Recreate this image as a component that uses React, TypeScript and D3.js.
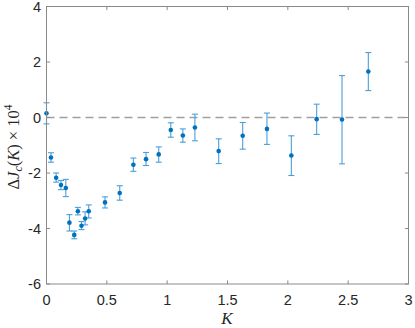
import React from "react";
import * as d3 from "d3";

const kValues = [0, 0.037, 0.08, 0.12, 0.16, 0.19, 0.23, 0.26, 0.29, 0.32, 0.35, 0.485, 0.607, 0.72, 0.825, 0.93, 1.03, 1.13, 1.23, 1.427, 1.626, 1.827, 2.029, 2.239, 2.449, 2.667];
const deltaJ = [0.15, -1.44, -2.17, -2.43, -2.54, -3.79, -4.23, -3.38, -3.9, -3.64, -3.38, -3.06, -2.72, -1.7, -1.5, -1.33, -0.45, -0.65, -0.36, -1.21, -0.66, -0.41, -1.37, -0.06, -0.07, 1.66];
const errTop = [0.38, 0.17, 0.17, 0.16, 0.31, 0.29, 0.14, 0.14, 0.15, 0.24, 0.23, 0.2, 0.26, 0.24, 0.24, 0.27, 0.26, 0.24, 0.48, 0.44, 0.48, 0.57, 0.71, 0.54, 1.58, 0.68];
const errBottom = [0.38, 0.17, 0.16, 0.17, 0.31, 0.3, 0.14, 0.13, 0.14, 0.23, 0.24, 0.2, 0.26, 0.24, 0.23, 0.28, 0.26, 0.24, 0.48, 0.45, 0.48, 0.56, 0.72, 0.55, 1.6, 0.69];
const xTicks = [0, 0.5, 1, 1.5, 2, 2.5, 3];
const xTickLabels = ["0", "0.5", "1", "1.5", "2", "2.5", "3"];
const yTicks = [-6, -4, -2, 0, 2, 4];
const yTickLabels = ["-6", "-4", "-2", "0", "2", "4"];

export default function App() {
  const W = 415, H = 328;
  const left = 46.5, right = 408.5, top = 6.5, bottom = 284;
  const x = d3.scaleLinear().domain([0, 3]).range([left, right]);
  const y = d3.scaleLinear().domain([-6, 4]).range([bottom, top]);
  const axisColor = "#8a8a8a";
  const textColor = "#262626";
  const tickLen = 3.6;
  const capHalf = 3;
  const font = "'Liberation Sans', Arial, Helvetica, sans-serif";
  const serif = "'Liberation Serif', 'DejaVu Serif', serif";

  return (
    <svg width={W} height={H} style={{ position: "absolute", left: 0, top: 0 }}>
      <rect x={0} y={0} width={W} height={H} fill="#fff" />
      {/* zero dashed line */}
      <line x1={left} x2={right} y1={y(0)} y2={y(0)} stroke="#a0a0a0" strokeWidth={1.5} strokeDasharray="8,5" />
      {/* error bars */}
      {kValues.map((k, i) => {
        const cx = x(k);
        const yt = y(deltaJ[i] + errTop[i]);
        const yb = y(deltaJ[i] - errBottom[i]);
        return (
          <g key={"e" + i} stroke="#4a9fda" strokeWidth={1.1}>
            <line x1={cx} x2={cx} y1={yt} y2={yb} />
            <line x1={cx - capHalf} x2={cx + capHalf} y1={yt} y2={yt} />
            <line x1={cx - capHalf} x2={cx + capHalf} y1={yb} y2={yb} />
          </g>
        );
      })}
      {kValues.map((k, i) => (
        <circle key={"p" + i} cx={x(k)} cy={y(deltaJ[i])} r={2.3} fill="#0072BD" />
      ))}
      {/* box */}
      <rect x={left} y={top} width={right - left} height={bottom - top} fill="none" stroke={axisColor} strokeWidth={1} />
      {/* ticks */}
      {xTicks.map((t) => (
        <g key={"xt" + t} stroke={axisColor} strokeWidth={1}>
          <line x1={x(t)} x2={x(t)} y1={bottom} y2={bottom - tickLen} />
          <line x1={x(t)} x2={x(t)} y1={top} y2={top + tickLen} />
        </g>
      ))}
      {yTicks.map((t) => (
        <g key={"yt" + t} stroke={axisColor} strokeWidth={1}>
          <line x1={left} x2={left + tickLen} y1={y(t)} y2={y(t)} />
          <line x1={right} x2={right - tickLen} y1={y(t)} y2={y(t)} />
        </g>
      ))}
      {xTicks.map((t, i) => (
        <text key={"xl" + t} x={x(t)} y={305} textAnchor="middle" fontFamily={font} fontSize={14.5} fill={textColor}>
          {xTickLabels[i]}
        </text>
      ))}
      {yTicks.map((t, i) => (
        <text key={"yl" + t} x={41} y={y(t) + 5} textAnchor="end" fontFamily={font} fontSize={14.5} fill={textColor}>
          {yTickLabels[i]}
        </text>
      ))}
      {/* x label */}
      <text x={227} y={324} textAnchor="middle" fontFamily={serif} fontStyle="italic" fontSize={17} fill={textColor}>
        K
      </text>
      {/* y label */}
      <text transform="translate(19,147) rotate(-90)" textAnchor="middle" fontFamily={serif} fontSize={16.5} fill={textColor}>
        <tspan>Δ</tspan>
        <tspan fontStyle="italic">J</tspan>
        <tspan fontStyle="italic" fontSize={12} dy={3}>c</tspan>
        <tspan dy={-3}>(</tspan>
        <tspan fontStyle="italic">K</tspan>
        <tspan>) × 10</tspan>
        <tspan fontSize={11.5} dy={-7}>4</tspan>
      </text>
    </svg>
  );
}
